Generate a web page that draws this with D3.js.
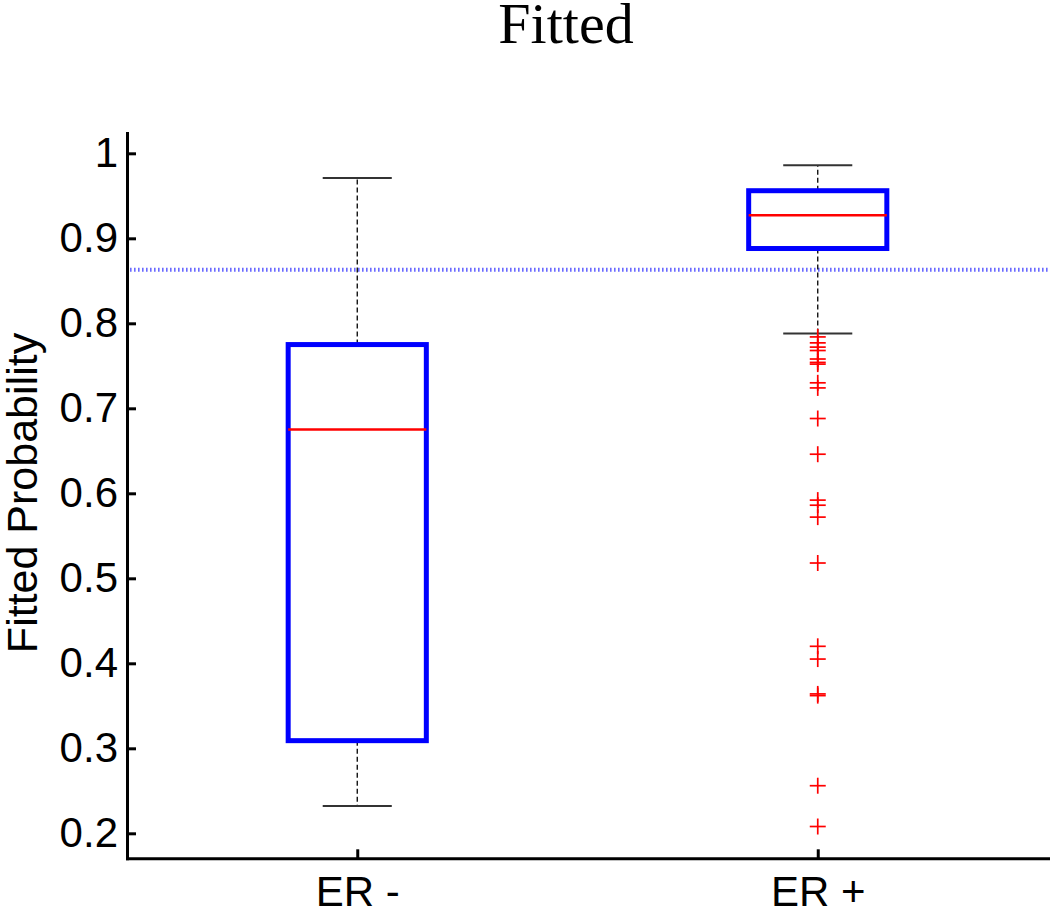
<html>
<head>
  <title>Fitted</title>
  <script src="https://d3js.org/d3.v7.min.js"></script>
  <style>
    body { margin: 0; background: #fff; }
    .axis path, .axis line { stroke: #000; stroke-width: 3px; }
    .axis text { font-family: "Liberation Sans", Arial, sans-serif; font-size: 42px; fill: #000; }
    .whisker { stroke: #000; stroke-width: 1.3px; stroke-dasharray: 5,3; }
    .cap { stroke: #333; stroke-width: 2px; }
    .box { fill: none; stroke: #0000ff; stroke-width: 5px; }
    .median { stroke: #ff0000; stroke-width: 2.5px; }
    .outlier { stroke: #ff0000; stroke-width: 1.7px; }
    .threshold { stroke: #6a6aff; stroke-width: 4px; stroke-dasharray: 1.6,2.4; }
  </style>
</head>
<body>
  <svg id="plot" width="1050" height="910"></svg>

  <script>
    // box statistics
    const groups = ["ER -", "ER +"];
    const lowerWhisker = [0.232, 0.788];
    const q1 = [0.309, 0.888];
    const medians = [0.675, 0.927];
    const q3 = [0.775, 0.956];
    const upperWhisker = [0.971, 0.986];

    // outliers for ER +
    const outliersPos = [0.784, 0.777, 0.772, 0.768, 0.758, 0.754, 0.752, 0.730, 0.724,
      0.688, 0.646, 0.592, 0.586, 0.572, 0.518, 0.420, 0.405, 0.364, 0.362, 0.256, 0.208];

    const threshold = 0.863;
    const yTicks = [0.2, 0.3, 0.4, 0.5, 0.6, 0.7, 0.8, 0.9, 1];
    const yLimits = [0.1706, 1.0239];

    const svg = d3.select("svg#plot");
    const plotLeft = 127, plotRight = 1048, plotTop = 133, plotBottom = 858.3;

    const xScale = d3.scaleLinear().domain([0.5, groups.length + 0.5]).range([plotLeft, plotRight]);
    const yScale = d3.scaleLinear().domain(yLimits).range([plotBottom, plotTop]);
    const boxW = 0.3, capW = 0.15;

    // title
    svg.append("text")
      .attr("x", 566).attr("y", 43)
      .attr("text-anchor", "middle")
      .style("font-family", "'Liberation Serif', 'Times New Roman', serif")
      .style("font-size", "58px")
      .text("Fitted");

    // y label
    svg.append("text")
      .attr("transform", "translate(37,493) rotate(-90)")
      .attr("text-anchor", "middle")
      .style("font-family", "'Liberation Sans', Arial, sans-serif")
      .style("font-size", "43px")
      .text("Fitted Probability");

    // threshold line
    svg.append("line").attr("class", "threshold")
      .attr("x1", plotLeft + 3).attr("x2", plotRight)
      .attr("y1", yScale(threshold)).attr("y2", yScale(threshold));

    const stats = groups.map((g, i) => ({
      g: g, x: i + 1, lo: lowerWhisker[i], q1: q1[i], med: medians[i], q3: q3[i], hi: upperWhisker[i]
    }));

    const boxes = svg.append("g").selectAll("g.group").data(stats).join("g").attr("class", "group");

    // whiskers
    boxes.append("line").attr("class", "whisker")
      .attr("x1", d => xScale(d.x)).attr("x2", d => xScale(d.x))
      .attr("y1", d => yScale(d.q3)).attr("y2", d => yScale(d.hi));
    boxes.append("line").attr("class", "whisker")
      .attr("x1", d => xScale(d.x)).attr("x2", d => xScale(d.x))
      .attr("y1", d => yScale(d.q1)).attr("y2", d => yScale(d.lo));

    // caps
    ["hi", "lo"].forEach(k => {
      boxes.append("line").attr("class", "cap")
        .attr("x1", d => xScale(d.x - capW / 2)).attr("x2", d => xScale(d.x + capW / 2))
        .attr("y1", d => yScale(d[k])).attr("y2", d => yScale(d[k]));
    });

    // box + median
    boxes.append("rect").attr("class", "box")
      .attr("x", d => xScale(d.x - boxW / 2))
      .attr("width", d => xScale(d.x + boxW / 2) - xScale(d.x - boxW / 2))
      .attr("y", d => yScale(d.q3))
      .attr("height", d => yScale(d.q1) - yScale(d.q3));
    boxes.append("line").attr("class", "median")
      .attr("x1", d => xScale(d.x - boxW / 2)).attr("x2", d => xScale(d.x + boxW / 2))
      .attr("y1", d => yScale(d.med)).attr("y2", d => yScale(d.med));

    // outliers as + markers
    const pl = svg.append("g").selectAll("g.outlier").data(outliersPos).join("g")
      .attr("class", "outlier")
      .attr("transform", d => `translate(${xScale(2)},${yScale(d)})`);
    pl.append("line").attr("x1", -8).attr("x2", 8).attr("y1", 0).attr("y2", 0);
    pl.append("line").attr("x1", 0).attr("x2", 0).attr("y1", -8).attr("y2", 8);

    // axes
    const yAxis = d3.axisLeft(yScale).tickValues(yTicks).tickFormat(d => d)
      .tickSizeInner(-9).tickSizeOuter(0).tickPadding(9);
    svg.append("g").attr("class", "y axis").attr("transform", `translate(${plotLeft},0)`).call(yAxis);

    const xAxis = d3.axisBottom(xScale).tickValues(groups.map((g, i) => i + 1))
      .tickFormat((d, i) => groups[i]).tickSizeInner(-9).tickSizeOuter(0).tickPadding(18);
    svg.append("g").attr("class", "x axis").attr("transform", `translate(0,${plotBottom})`).call(xAxis);

    svg.selectAll(".axis path").attr("stroke-linecap", "square");
  </script>
</body>
</html>
